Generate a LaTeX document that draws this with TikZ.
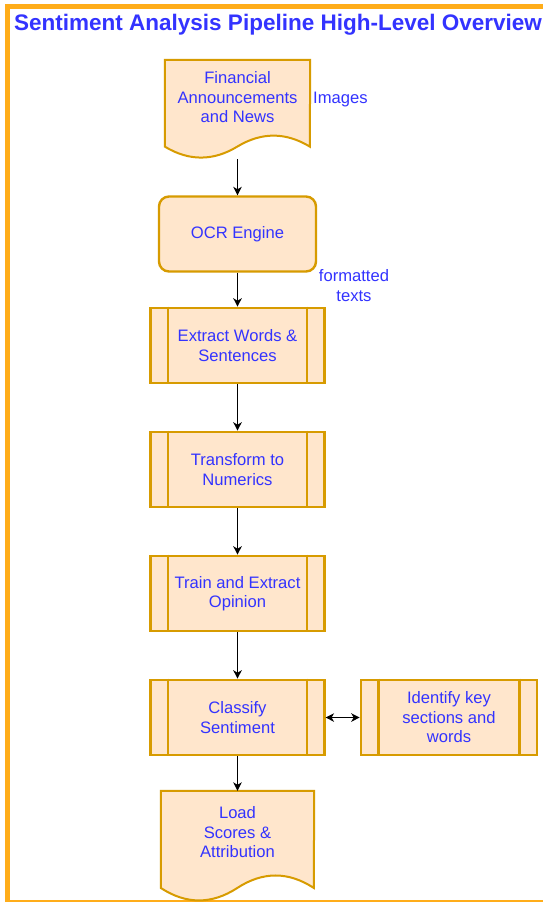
\documentclass[tikz,border=0pt]{standalone}
\usepackage{fontspec}
\setmainfont{Liberation Sans}
\usetikzlibrary{arrows.meta,calc}
\definecolor{fillc}{HTML}{FFE6CC}
\definecolor{strokec}{HTML}{D79B00}
\definecolor{txtc}{HTML}{3333FF}
\definecolor{framec}{HTML}{FFAD1A}
\tikzset{
  lbl/.style={text=txtc, font=\fontsize{16.6}{19.5}\selectfont, align=center, inner sep=0pt},
  procbox/.style={draw=strokec, fill=fillc, line width=2.6pt, minimum width=173.5pt, minimum height=75pt, lbl},
  roundbox/.style={draw=strokec, fill=fillc, line width=2.4pt, rounded corners=10pt, minimum width=157pt, minimum height=75pt, lbl},
  docframe/.style={draw=none, inner sep=0pt},
  docstyle/.style={draw=strokec, fill=fillc, line width=2pt},
  innerline/.style={draw=strokec, line width=2.6pt},
  arr/.style={draw=black, line width=1.2pt, -{Stealth[length=8.5pt,width=8.5pt,inset=2.5pt]}},
  dblarr/.style={draw=black, line width=1.2pt, {Stealth[length=8.5pt,width=8.5pt,inset=2.5pt]}-{Stealth[length=8.5pt,width=8.5pt,inset=2.5pt]}},
  framebar/.style={draw=framec},
}
\newcommand\docshape[4]{% name, w, h, dy
  \path[docstyle] (#1.north west) -- (#1.north east)
    -- ($(#1.north west)+(#2,{#3-#4/2})$)
    .. controls ($(#1.north west)+({5*#2/6},{#3-1.1*#4})$) and ($(#1.north west)+({2*#2/3},{#3-1.1*#4})$)
    .. ($(#1.north west)+({#2/2},{#3-#4/2})$)
    .. controls ($(#1.north west)+({#2/3},{#3+0.1*#4})$) and ($(#1.north west)+({#2/6},{#3+0.1*#4})$)
    .. ($(#1.north west)+(0,{#3-#4/2})$) -- cycle;}
\newcommand\innerlines[2]{% name, inset
  \path[innerline] ($(#1.north west)+(#2,0)$) -- ($(#1.south west)+(#2,0)$);
  \path[innerline] ($(#1.north east)+(-#2,0)$) -- ($(#1.south east)+(-#2,0)$);}
\begin{document}
\begin{tikzpicture}[x=1pt,y=-1pt]
\useasboundingbox (0,0) rectangle (543,902);
\fill[white] (0,0) rectangle (543,902);
% frame
\path[framebar, line width=5pt] (7.5,910) -- (7.5,6.3) -- (560,6.3);
\path[framebar, line width=1.8pt] (5,901.2) -- (560,901.2);
% title
\node[anchor=base west, inner sep=0pt, text=txtc, font=\fontsize{22.5}{26}\selectfont\bfseries] (title) at (14,30) {Sentiment Analysis Pipeline High-Level Overview};
% document 1
\node[docframe, minimum width=145pt, minimum height=99pt] (doc1) at (237.5,109.5) {};
\docshape{doc1}{145}{99}{24.4}
\node[lbl] (doc1t) at (237.5,97.5) {Financial\\Announcements\\and News};
\node[lbl, anchor=west] (imgs) at (313,100) {Images};
% OCR
\node[roundbox] (ocr) at (237.5,234) {OCR Engine};
\node[lbl] (fmt) at (354,285.5) {formatted\\texts};
% process boxes
\node[procbox] (extract) at (237.5,345.5) {Extract Words \&\\Sentences};
\innerlines{extract}{18.5}
\node[procbox] (transform) at (237.5,469.5) {Transform to\\Numerics};
\innerlines{transform}{18.5}
\node[procbox] (train) at (237.5,593.5) {Train and Extract\\Opinion};
\innerlines{train}{18.5}
\node[procbox] (classify) at (237.5,717.5) {Classify\\Sentiment};
\innerlines{classify}{18.5}
\node[procbox, minimum width=176pt] (identify) at (449,717.5) {Identify key\\sections and\\words};
\innerlines{identify}{19}
% document 2
\node[docframe, minimum width=153pt, minimum height=111pt] (load) at (237.5,846.5) {};
\docshape{load}{153}{111}{27.7}
\node[lbl] (loadt) at (237.5,832.5) {Load\\Scores \&\\Attribution};
% connectors
\draw[arr] (doc1.south) -- (ocr.north);
\draw[arr] (ocr.south) -- (extract.north);
\draw[arr] (extract.south) -- (transform.north);
\draw[arr] (transform.south) -- (train.north);
\draw[arr] (train.south) -- (classify.north);
\draw[arr] (classify.south) -- (load.north);
\draw[dblarr] (classify.east) -- (identify.west);
\end{tikzpicture}
\end{document}
